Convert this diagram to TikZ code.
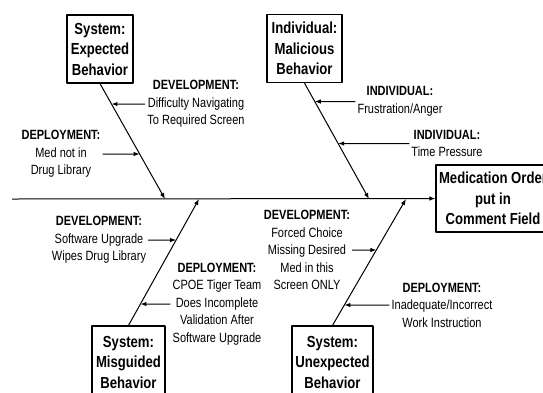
\documentclass[tikz,border=0pt]{standalone}
\usepackage{fontspec}
\setmainfont{Liberation Sans}[FakeStretch=0.82]
\usetikzlibrary{arrows.meta}

\begin{document}
\begin{tikzpicture}[x=1pt,y=-1pt,>={Latex[length=6pt,width=4.5pt]}, line join=round,
	box/.style={draw, line width=1.2pt, align=center, inner sep=3pt, minimum height=68pt, font=\bfseries\fontsize{16}{20.5}\selectfont},
	cause/.style={align=center, inner sep=2pt, font=\fontsize{13.4}{17.5}\selectfont},
	bone/.style={line width=1pt}]
	%Khung hình
	\useasboundingbox (0,0) rectangle (543,392);
	\clip (0,0) rectangle (543,392);
	%Các hộp nguyên nhân và kết quả
	\node[box, minimum width=66pt] (sysexp) at (100,49) {System:\\Expected\\Behavior};
	\node[box, minimum width=75pt] (indmal) at (304.5,48.5) {Individual:\\Malicious\\Behavior};
	\node[box, minimum width=73pt, minimum height=72pt] (sysmis) at (128.5,362) {System:\\Misguided\\Behavior};
	\node[box, minimum width=81pt, minimum height=72pt] (sysunx) at (332.5,362) {System:\\Unexpected\\Behavior};
	\node[box, minimum width=112pt, minimum height=67pt] (effect) at (493,198.5) {Medication Order\\put in\\Comment Field};
	%Trục chính
	\coordinate (tail) at (12,199);
	\draw[bone,->] (tail) -- (effect.west);
	%Các nhánh
	\coordinate (t1) at (165,199);
	\coordinate (t2) at (369,199);
	\coordinate (t3) at (199,199);
	\coordinate (t4) at (406,199);
	\draw[bone,->] (sysexp.south) -- (t1);
	\draw[bone,->] (indmal.south) -- (t2);
	\draw[bone,->] (sysmis.north) -- (t3);
	\draw[bone,->] (sysunx.north) -- (t4);
	%Các nguyên nhân con
	\node[cause] (difnav) at (196,104) {{\bfseries DEVELOPMENT:}\\Difficulty Navigating\\To Required Screen};
	\node[cause] (medlib) at (61,154) {{\bfseries DEPLOYMENT:}\\Med not in\\Drug Library};
	\node[cause] (frust) at (400,101.5) {{\bfseries INDIVIDUAL:}\\Frustration/Anger};
	\node[cause] (timep) at (447,143.5) {{\bfseries INDIVIDUAL:}\\Time Pressure};
	\node[cause] (wipes) at (99,240) {{\bfseries DEVELOPMENT:}\\Software Upgrade\\Wipes Drug Library};
	\node[cause] (tiger) at (217,304) {{\bfseries DEPLOYMENT:}\\CPOE Tiger Team\\Does Incomplete\\Validation After\\Software Upgrade};
	\node[cause] (forced) at (307,250) {{\bfseries DEVELOPMENT:}\\Forced Choice\\Missing Desired\\Med in this\\Screen ONLY};
	\node[cause] (instr) at (442,305) {{\bfseries DEPLOYMENT:}\\Inadequate/Incorrect\\Work Instruction};
	%Mũi tên vào nhánh
	\draw[bone,->] (difnav.west) -- (intersection cs: first line={(sysexp.south)--(t1)}, second line={(difnav.west)--(difnav.east)});
	\draw[bone,->] (medlib.east) -- (intersection cs: first line={(sysexp.south)--(t1)}, second line={(medlib.west)--(medlib.east)});
	\draw[bone,->] (frust.west) -- (intersection cs: first line={(indmal.south)--(t2)}, second line={(frust.west)--(frust.east)});
	\draw[bone,->] (timep.west) -- (intersection cs: first line={(indmal.south)--(t2)}, second line={(timep.west)--(timep.east)});
	\draw[bone,->] (wipes.east) -- (intersection cs: first line={(sysmis.north)--(t3)}, second line={(wipes.west)--(wipes.east)});
	\draw[bone,->] (tiger.west) -- (intersection cs: first line={(sysmis.north)--(t3)}, second line={(tiger.west)--(tiger.east)});
	\draw[bone,->] (forced.east) -- (intersection cs: first line={(sysunx.north)--(t4)}, second line={(forced.west)--(forced.east)});
	\draw[bone,->] (instr.west) -- (intersection cs: first line={(sysunx.north)--(t4)}, second line={(instr.west)--(instr.east)});
\end{tikzpicture}
\end{document}
